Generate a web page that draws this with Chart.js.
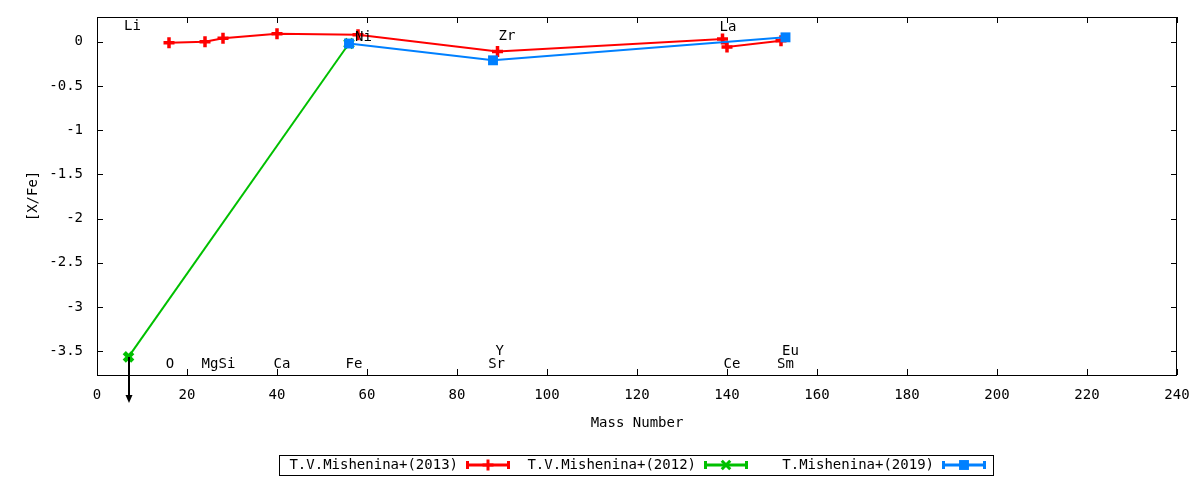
<!DOCTYPE html>
<html>
<head>
<meta charset="utf-8">
<script src="https://cdn.jsdelivr.net/npm/chart.js@4.4.1/dist/chart.umd.min.js"></script>
<style>
  html, body { margin: 0; padding: 0; background: #fff; }
  #wrap { width: 1200px; height: 480px; }
</style>
</head>
<body>
<div id="wrap"><canvas id="chart"></canvas></div>
<script>
// [X/Fe] against mass number, one pair of arrays per source
var mass2013 = [16, 24, 28, 40, 58, 89, 139, 140, 152];
var xfe2013 = [-0.01, 0.0, 0.04, 0.09, 0.08, -0.11, 0.03, -0.06, 0.01];
var mass2012 = [7, 56];
var xfe2012 = [-3.565, -0.02];
var mass2019 = [56, 88, 153];
var xfe2019 = [-0.02, -0.21, 0.05];

// Li from 2012 is an upper limit
var upperLimitMass = [7];
var upperLimitXfe = [-3.565];

var seriesNames = ['T.V.Mishenina+(2013)', 'T.V.Mishenina+(2012)', 'T.Mishenina+(2019)'];

// element names written on the plot, in data units
var elemNames = ['Li', 'Ni', 'Zr', 'La', 'O', 'Mg', 'Si', 'Ca', 'Fe', 'Y', 'Sr', 'Ce', 'Eu', 'Sm'];
var elemX = [7.9, 59.2, 91.1, 140.2, 16.2, 25.1, 28.9, 41.1, 57.1, 89.5, 88.8, 141.1, 154.1, 153.0];
var elemY = [0.17, 0.055, 0.057, 0.16, -3.645, -3.645, -3.645, -3.645, -3.645, -3.50, -3.645, -3.645, -3.50, -3.645];

var massTicks = [0, 20, 40, 60, 80, 100, 120, 140, 160, 180, 200, 220, 240];
var xfeTicks = [0, -0.5, -1, -1.5, -2, -2.5, -3, -3.5];

var FONT = '"DejaVu Sans Mono", "Liberation Mono", monospace';

function pts(xs, ys) {
    return xs.map(function (x, i) { return {x: x, y: ys[i]}; });
}

// frame with inward ticks on all four sides (gnuplot look)
var framePlugin = {
    id: 'frame',
    afterDraw: function (chart) {
        var ctx = chart.ctx, a = chart.chartArea;
        var xs = chart.scales.x, ys = chart.scales.y;
        ctx.save();
        ctx.strokeStyle = '#000';
        ctx.lineWidth = 1;
        ctx.strokeRect(a.left + 0.5, a.top + 0.5, a.right - a.left - 1, a.bottom - a.top);
        ctx.beginPath();
        massTicks.forEach(function (v) {
            var px = Math.round(xs.getPixelForValue(v)) + 0.5;
            ctx.moveTo(px, a.bottom); ctx.lineTo(px, a.bottom - 6);
            ctx.moveTo(px, a.top); ctx.lineTo(px, a.top + 6);
        });
        xfeTicks.forEach(function (v) {
            var py = Math.round(ys.getPixelForValue(v)) + 0.5;
            ctx.moveTo(a.left, py); ctx.lineTo(a.left + 6, py);
            ctx.moveTo(a.right, py); ctx.lineTo(a.right - 6, py);
        });
        ctx.stroke();
        ctx.restore();
    }
};

// element labels and the upper-limit arrow
var notesPlugin = {
    id: 'notes',
    afterDatasetsDraw: function (chart) {
        var ctx = chart.ctx;
        var xs = chart.scales.x, ys = chart.scales.y;
        ctx.save();
        ctx.fillStyle = '#000';
        ctx.font = '14px ' + FONT;
        ctx.textAlign = 'center';
        ctx.textBaseline = 'middle';
        elemNames.forEach(function (n, i) {
            ctx.fillText(n, xs.getPixelForValue(elemX[i]), ys.getPixelForValue(elemY[i]));
        });

        ctx.strokeStyle = '#000';
        ctx.lineWidth = 2;
        upperLimitMass.forEach(function (m, i) {
            var px = Math.round(xs.getPixelForValue(m));
            var py = ys.getPixelForValue(upperLimitXfe[i]);
            var end = py + 46;
            ctx.beginPath();
            ctx.moveTo(px, py);
            ctx.lineTo(px, end - 6);
            ctx.stroke();
            ctx.beginPath();
            ctx.moveTo(px - 3.5, end - 8);
            ctx.lineTo(px + 3.5, end - 8);
            ctx.lineTo(px, end);
            ctx.closePath();
            ctx.fill();
        });
        ctx.restore();
    }
};

// gnuplot style key: text first, then a sample with end caps and the marker
var keyPlugin = {
    id: 'key',
    afterDraw: function (chart) {
        var ctx = chart.ctx;
        var sampleStart = [466, 704, 942];
        var cy = 465;
        ctx.save();
        ctx.strokeStyle = '#000';
        ctx.lineWidth = 1;
        ctx.strokeRect(279.5, 455.5, 714, 20);
        ctx.font = '14px ' + FONT;
        ctx.textAlign = 'right';
        ctx.textBaseline = 'middle';
        chart.data.datasets.forEach(function (ds, i) {
            var x0 = sampleStart[i], x1 = x0 + 44;
            ctx.fillStyle = '#000';
            ctx.fillText(seriesNames[i], x0 - 8, cy);
            ctx.strokeStyle = ds.borderColor;
            ctx.fillStyle = ds.backgroundColor;
            ctx.lineWidth = 3;
            ctx.beginPath();
            ctx.moveTo(x0, cy); ctx.lineTo(x1, cy);
            ctx.moveTo(x0 + 1.5, cy - 4); ctx.lineTo(x0 + 1.5, cy + 4);
            ctx.moveTo(x1 - 1.5, cy - 4); ctx.lineTo(x1 - 1.5, cy + 4);
            ctx.stroke();
            Chart.helpers.drawPoint(ctx, {
                pointStyle: ds.pointStyle,
                radius: ds.pointRadius,
                rotation: 0,
                borderWidth: ds.pointBorderWidth
            }, (x0 + x1) / 2, cy);
        });
        ctx.restore();
    }
};

new Chart(document.getElementById('chart'), {
    type: 'line',
    data: {
        datasets: [
            {
                label: seriesNames[0],
                data: pts(mass2013, xfe2013),
                order: 3,
                borderColor: '#ff0000',
                backgroundColor: '#ff0000',
                borderWidth: 2,
                pointStyle: 'cross',
                pointRadius: 5.5,
                pointBorderWidth: 3.5
            },
            {
                label: seriesNames[1],
                data: pts(mass2012, xfe2012),
                order: 2,
                borderColor: '#00c000',
                backgroundColor: '#00c000',
                borderWidth: 2,
                pointStyle: 'crossRot',
                pointRadius: 6,
                pointBorderWidth: 4.5
            },
            {
                label: seriesNames[2],
                data: pts(mass2019, xfe2019),
                order: 1,
                borderColor: '#0080ff',
                backgroundColor: '#0080ff',
                borderWidth: 2,
                pointStyle: 'rect',
                pointRadius: 7,
                pointBorderWidth: 0
            }
        ]
    },
    options: {
        responsive: true,
        maintainAspectRatio: false,
        animation: false,
        layout: {padding: {top: 17, right: 23, left: 0, bottom: 0}},
        elements: {line: {tension: 0}},
        plugins: {
            legend: {display: false},
            tooltip: {enabled: false}
        },
        scales: {
            x: {
                type: 'linear',
                min: 0,
                max: 240,
                afterBuildTicks: function (s) {
                    s.ticks = massTicks.map(function (v) { return {value: v}; });
                },
                afterFit: function (s) {
                    s.height = 105;
                    s.paddingLeft = 0;
                    s.paddingRight = 0;
                },
                grid: {display: false, drawTicks: false},
                border: {display: false},
                ticks: {
                    color: '#000',
                    font: {family: FONT, size: 14},
                    padding: 12,
                    maxRotation: 0
                },
                title: {
                    display: true,
                    text: 'Mass Number',
                    color: '#000',
                    font: {family: FONT, size: 14},
                    padding: {top: 0, bottom: 48}
                }
            },
            y: {
                type: 'linear',
                min: -3.77,
                max: 0.28,
                afterBuildTicks: function (s) {
                    s.ticks = xfeTicks.map(function (v) { return {value: v}; });
                },
                afterFit: function (s) {
                    s.width = 97;
                    s.paddingTop = 0;
                    s.paddingBottom = 0;
                },
                grid: {display: false, drawTicks: false},
                border: {display: false},
                ticks: {
                    color: '#000',
                    font: {family: FONT, size: 14},
                    padding: 14,
                    callback: function (v) { return String(v); }
                },
                title: {
                    display: true,
                    text: '[X/Fe]',
                    color: '#000',
                    font: {family: FONT, size: 14},
                    padding: {top: 25, bottom: 0}
                }
            }
        }
    },
    plugins: [framePlugin, notesPlugin, keyPlugin]
});
</script>
</body>
</html>
